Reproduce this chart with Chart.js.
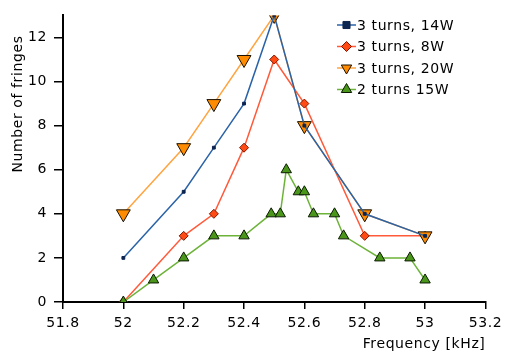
<!DOCTYPE html>
<html lang="en">
<head>
    <meta charset="UTF-8">
    <title>Number of fringes vs frequency</title>
    <script src="https://cdn.jsdelivr.net/npm/chart.js"></script>
    <style>
        html, body {
            margin: 0;
            padding: 0;
            background: #fff;
        }
        .chart-container {
            position: relative;
            width: 507px;
            height: 353px;
        }
    </style>
</head>
<body>
    <div class="chart-container">
        <canvas id="fringeChart" width="507" height="353"></canvas>
    </div>

    <script>
        // frequencies (kHz) for the 3-turn runs
        const freq3 = [52, 52.2, 52.3, 52.4, 52.5, 52.6, 52.8, 53];
        const turns3_14W = [2, 5, 7, 9, 13, 8, 4, 3];
        const turns3_8W = [0, 3, 4, 7, 11, 9, 3, 3];
        const turns3_20W = [4, 7, 9, 11, 13, 8, 4, 3];

        // 2-turn run was sampled on its own grid
        const freq2 = [52, 52.1, 52.2, 52.3, 52.4, 52.49, 52.52, 52.54, 52.58, 52.6, 52.63, 52.7, 52.73, 52.85, 52.95, 53];
        const turns2_15W = [0, 1, 2, 3, 3, 4, 4, 6, 5, 5, 4, 4, 3, 2, 2, 1];

        const seriesLabels = ['3 turns, 14W', '3 turns, 8W', '3 turns, 20W', '2 turns 15W'];
        const xTicks = [51.8, 52, 52.2, 52.4, 52.6, 52.8, 53, 53.2];
        const yTicks = [0, 2, 4, 6, 8, 10, 12];

        const FONT = '"DejaVu Sans", Verdana, sans-serif';

        function pts(xs, ys) {
            return xs.map((x, i) => ({ x: x, y: ys[i] }));
        }

        // legend with line + marker, drawn inside the plot area
        const lineLegend = {
            id: 'lineLegend',
            beforeDraw(chart) {
                chart.ctx.letterSpacing = '0.6px';
            },
            afterDraw(chart) {
                const ctx = chart.ctx;
                ctx.save();
                ctx.letterSpacing = '0.6px';

                // y axis title, sits above the middle like the original
                ctx.save();
                ctx.translate(18, 104);
                ctx.rotate(-Math.PI / 2);
                ctx.font = '14px ' + FONT;
                ctx.fillStyle = '#000';
                ctx.textAlign = 'center';
                ctx.textBaseline = 'middle';
                ctx.fillText('Number of fringes', 0, 0);
                ctx.restore();

                const x0 = 337, x1 = 356, top = 25, gap = 21.5;
                chart.data.datasets.forEach((ds, i) => {
                    const y = top + i * gap;
                    ctx.strokeStyle = ds.borderColor;
                    ctx.lineWidth = 1.5;
                    ctx.beginPath();
                    ctx.moveTo(x0, y);
                    ctx.lineTo(x1, y);
                    ctx.stroke();

                    ctx.fillStyle = ds.pointBackgroundColor;
                    ctx.strokeStyle = ds.pointBorderColor;
                    ctx.lineWidth = 1;
                    Chart.helpers.drawPoint(ctx, {
                        pointStyle: ds.pointStyle,
                        rotation: ds.pointRotation || 0,
                        radius: ds.legendRadius,
                        borderWidth: 1
                    }, (x0 + x1) / 2, y);

                    ctx.fillStyle = '#000';
                    ctx.font = '14px ' + FONT;
                    ctx.textAlign = 'left';
                    ctx.textBaseline = 'middle';
                    ctx.fillText(ds.label, x1 + 1, y + 1);
                });
                ctx.restore();
            }
        };

        const ctx = document.getElementById('fringeChart').getContext('2d');
        new Chart(ctx, {
            type: 'line',
            data: {
                datasets: [{
                    label: seriesLabels[0],
                    data: pts(freq3, turns3_14W),
                    borderColor: '#2b63a8',
                    borderWidth: 1.5,
                    pointStyle: 'rect',
                    pointRadius: 2,
                    pointBackgroundColor: '#0c2450',
                    pointBorderColor: '#0c2450',
                    pointBorderWidth: 1,
                    legendRadius: 5,
                    order: 0
                }, {
                    label: seriesLabels[1],
                    data: pts(freq3, turns3_8W),
                    borderColor: '#ff5a3a',
                    borderWidth: 1.5,
                    pointStyle: 'rectRot',
                    pointRadius: 4.5,
                    pointBackgroundColor: '#ff4a14',
                    pointBorderColor: '#7a1800',
                    pointBorderWidth: 1,
                    legendRadius: 5,
                    order: 2
                }, {
                    label: seriesLabels[2],
                    data: pts(freq3, turns3_20W),
                    borderColor: '#ffa440',
                    borderWidth: 1.5,
                    pointStyle: 'triangle',
                    pointRotation: 180,
                    rotation: 180,
                    pointRadius: 8,
                    pointBackgroundColor: '#ff8c00',
                    pointBorderColor: '#1a1000',
                    pointBorderWidth: 1,
                    legendRadius: 6,
                    order: 1
                }, {
                    label: seriesLabels[3],
                    data: pts(freq2, turns2_15W),
                    borderColor: '#6db33a',
                    borderWidth: 1.5,
                    pointStyle: 'triangle',
                    pointRadius: 6,
                    pointBackgroundColor: '#4a961a',
                    pointBorderColor: '#0a1a00',
                    pointBorderWidth: 1,
                    legendRadius: 6,
                    order: 0
                }]
            },
            options: {
                responsive: false,
                animation: false,
                layout: { padding: { top: 5, right: 16, left: 0, bottom: 0 } },
                elements: { line: { tension: 0 } },
                plugins: {
                    legend: { display: false },
                    tooltip: { enabled: false }
                },
                scales: {
                    x: {
                        type: 'linear',
                        min: xTicks[0],
                        max: xTicks[xTicks.length - 1],
                        afterBuildTicks: (scale) => {
                            scale.ticks = xTicks.map(v => ({ value: v }));
                        },
                        afterFit: (scale) => { scale.height = 51; },
                        grid: {
                            display: true,
                            drawOnChartArea: false,
                            drawTicks: true,
                            tickLength: 7,
                            color: '#000',
                            lineWidth: 1.5
                        },
                        border: { display: true, color: '#000', width: 2 },
                        ticks: {
                            color: '#000',
                            font: { size: 14, family: FONT },
                            padding: 6,
                            maxRotation: 0,
                            autoSkip: false,
                            callback: (v) => String(parseFloat(Number(v).toFixed(1)))
                        },
                        title: {
                            display: true,
                            text: 'Frequency [kHz]',
                            align: 'end',
                            color: '#000',
                            font: { size: 14, family: FONT },
                            padding: { top: 1, bottom: 0 }
                        }
                    },
                    y: {
                        min: 0,
                        max: 13,
                        afterBuildTicks: (scale) => {
                            scale.ticks = yTicks.map(v => ({ value: v }));
                        },
                        afterFit: (scale) => { scale.width = 63; },
                        grid: {
                            display: true,
                            drawOnChartArea: false,
                            drawTicks: true,
                            tickLength: 9,
                            color: '#000',
                            lineWidth: 1.5
                        },
                        border: { display: true, color: '#000', width: 2 },
                        ticks: {
                            color: '#000',
                            font: { size: 14, family: FONT },
                            padding: 7,
                            autoSkip: false
                        },
                        title: { display: false }
                    }
                }
            },
            plugins: [lineLegend]
        });
    </script>
</body>
</html>
